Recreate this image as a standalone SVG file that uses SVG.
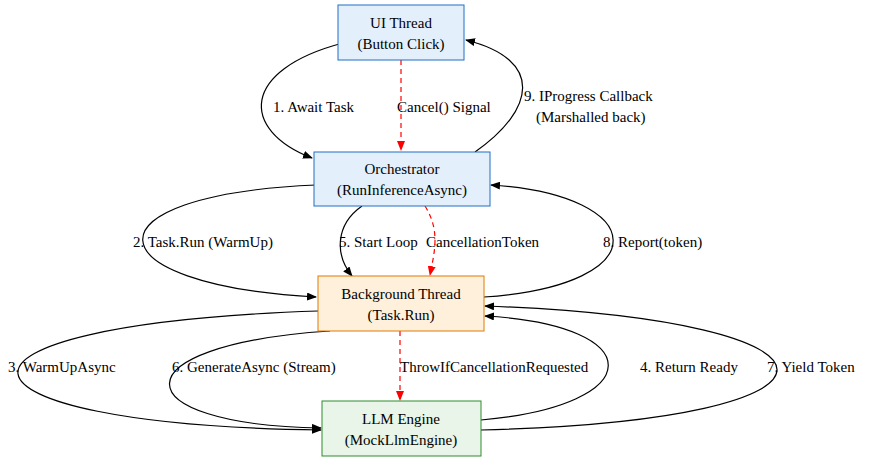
<svg xmlns="http://www.w3.org/2000/svg" width="881" height="461" viewBox="0 0 881 461">
<defs>
<marker id="ab" markerWidth="10" markerHeight="8" refX="9" refY="4" orient="auto" markerUnits="userSpaceOnUse"><path d="M0,0 L10,4 L0,8 z" fill="#000"/></marker>
<marker id="ar" markerWidth="10" markerHeight="8" refX="9" refY="4" orient="auto" markerUnits="userSpaceOnUse"><path d="M0,0 L10,4 L0,8 z" fill="#f00"/></marker>
</defs>
<style>
text{font-family:"Liberation Serif","Times New Roman",Times,serif;font-size:15px;fill:#000}
.n text{text-anchor:middle}
.e{fill:none;stroke:#000;stroke-width:1.2;marker-end:url(#ab)}
.d{fill:none;stroke:#f00;stroke-width:1.2;stroke-dasharray:5,4;marker-end:url(#ar)}
</style>
<rect width="881" height="461" fill="#fff"/>
<g id="connectors">
<path class="e" d="M343,43 C240,70 240,130 312,158"/>
<path class="d" d="M401,60 L401,150"/>
<path class="e" d="M475,152 C535,110 545,60 466,40"/>
<path class="e" d="M316,185 C80,195 90,285 316,297"/>
<path class="e" d="M362,206 C335,225 335,255 352,276"/>
<path class="d" d="M425,206 C440,230 435,250 430,275"/>
<path class="e" d="M484,297 C660,285 650,195 491,185"/>
<path class="e" d="M318,311 C-95,325 -70,425 321,430"/>
<path class="e" d="M330,331 C115,345 120,425 321,428"/>
<path class="d" d="M400,331 L400,400"/>
<path class="e" d="M481,420 C650,405 650,325 485,316"/>
<path class="e" d="M481,430 C880,420 870,320 485,306"/>
<text x="273" y="112">1. Await Task</text>
<text x="397" y="112">Cancel() Signal</text>
<text x="524" y="101">9. IProgress Callback</text>
<text x="536" y="122">(Marshalled back)</text>
<text x="133" y="247">2. Task.Run (WarmUp)</text>
<text x="339" y="247">5. Start Loop</text>
<text x="426" y="247">CancellationToken</text>
<text x="603" y="247">8. Report(token)</text>
<text x="8" y="372">3. WarmUpAsync</text>
<text x="172" y="372">6. GenerateAsync (Stream)</text>
<text x="400" y="372">ThrowIfCancellationRequested</text>
<text x="640" y="372">4. Return Ready</text>
<text x="767" y="372">7. Yield Token</text>
</g>
<g id="ui" class="n"><rect x="338" y="5" width="126" height="55" fill="#e3f0fb" stroke="#1f6fc5"/><text x="401" y="28">UI Thread</text><text x="401" y="49">(Button Click)</text></g>
<g id="orch" class="n"><rect x="314" y="152" width="176" height="54" fill="#e3f0fb" stroke="#1f6fc5"/><text x="402" y="174">Orchestrator</text><text x="402" y="195">(RunInferenceAsync)</text></g>
<g id="bg" class="n"><rect x="318" y="276" width="166" height="55" fill="#fff0dc" stroke="#e07b00"/><text x="401" y="299">Background Thread</text><text x="401" y="320">(Task.Run)</text></g>
<g id="llm" class="n"><rect x="322" y="401" width="159" height="55" fill="#e8f5e8" stroke="#2e8b2e"/><text x="401" y="424">LLM Engine</text><text x="401" y="445">(MockLlmEngine)</text></g>
</svg>
